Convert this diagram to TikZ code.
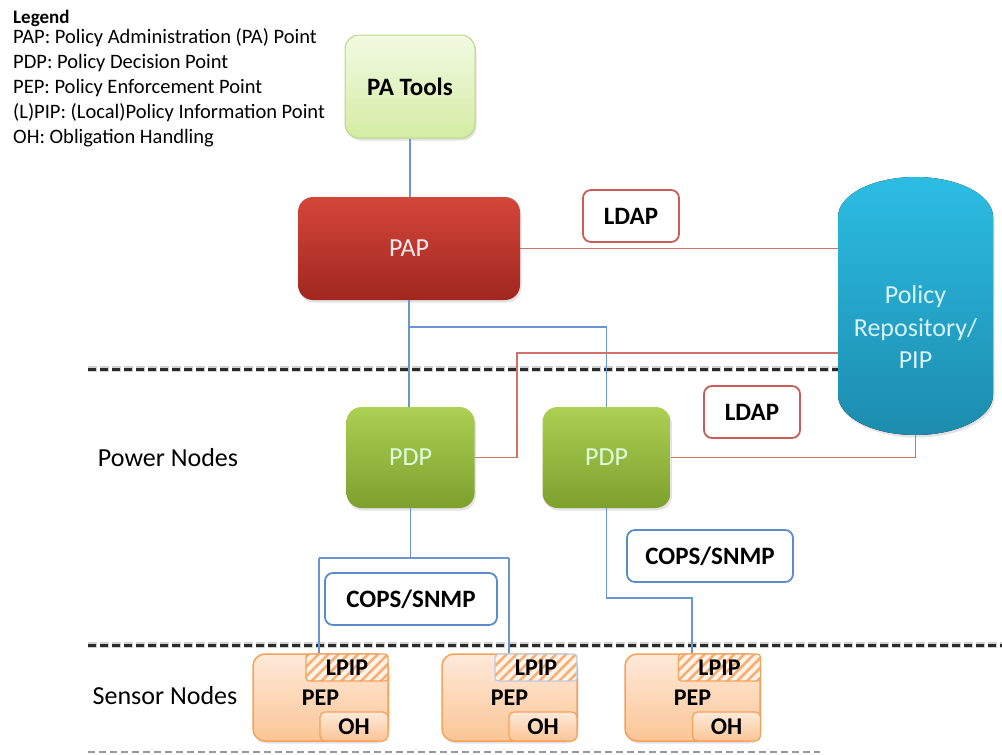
\documentclass[tikz,border=0pt]{standalone}
\usepackage{fontspec}
\setmainfont{Carlito}
\usetikzlibrary{shadows,patterns.meta}
\definecolor{linkblue}{HTML}{6A95D2}
\definecolor{linkred}{HTML}{D2716C}
\definecolor{paTop}{HTML}{F2FAE2}
\definecolor{paBot}{HTML}{D4ECA4}
\definecolor{paBorder}{HTML}{B5D984}
\definecolor{papTop}{HTML}{D4463A}
\definecolor{papBot}{HTML}{A0271F}
\definecolor{pdpTop}{HTML}{ABD052}
\definecolor{pdpBot}{HTML}{7DA02E}
\definecolor{repTop}{HTML}{2CBDE3}
\definecolor{repBot}{HTML}{1C8CAE}
\definecolor{ldapRed}{HTML}{C95E59}
\definecolor{copsBlue}{HTML}{5B8BCB}
\definecolor{pepTop}{HTML}{FEEADA}
\definecolor{pepBot}{HTML}{FBC596}
\definecolor{pepBorder}{HTML}{F4A15A}
\definecolor{lpipBg}{HTML}{FFF2E8}
\definecolor{lpipStripe}{HTML}{F6AD70}
\definecolor{lpipGrey}{HTML}{BFCBDF}
\definecolor{dashCol}{HTML}{2B2B2B}
\newcommand\ffBig{\fontsize{26}{32.5}\selectfont}
\newcommand\ffBold{\fontsize{25}{30}\selectfont\bfseries}
\newcommand\ffMid{\fontsize{24}{28}\selectfont\bfseries}
\newcommand\ffLeg{\fontsize{20.5}{25}\selectfont}
\newcommand\ffLegB{\fontsize{19}{22}\selectfont\bfseries}
\begin{document}
\begin{tikzpicture}[x=1pt,y=-1pt,
  shad/.style={drop shadow={opacity=0.22,shadow xshift=1.5pt,shadow yshift=-2.5pt}},
  legtext/.style={anchor=base west,inner sep=0pt,font=\ffLeg},
  toolbox/.style={rounded corners=14pt,minimum width=130pt,minimum height=103pt,inner sep=0pt,
    top color=paTop,bottom color=paBot,draw=paBorder,line width=1pt,shad,font=\ffBold},
  papbox/.style={rounded corners=15pt,minimum width=222pt,minimum height=103pt,inner sep=0pt,
    top color=papTop,bottom color=papBot,text=white!92!red,shad,font=\ffBig},
  pdpbox/.style={rounded corners=15pt,minimum width=128pt,minimum height=101pt,inner sep=0pt,
    top color=pdpTop,bottom color=pdpBot,text=white!88!green,shad,font=\ffBig},
  ldapbox/.style={draw=ldapRed,line width=1.8pt,rounded corners=8pt,fill=white,
    minimum width=96pt,minimum height=52pt,inner sep=0pt,font=\ffBold},
  copsbox/.style={draw=copsBlue,line width=1.8pt,rounded corners=8pt,fill=white,
    minimum height=52pt,inner sep=0pt,font=\ffBold},
  pepbox/.style={rounded corners=12pt,top color=pepTop,bottom color=pepBot,draw=pepBorder,
    line width=1.5pt,minimum width=135pt,minimum height=87pt,inner sep=0pt,font=\ffMid,shad},
  lpipbox/.style={draw=pepBorder,line width=1.2pt,rounded corners=3pt,preaction={fill=lpipBg},
    pattern={Lines[angle=45,distance=7pt,line width=2.5pt]},pattern color=lpipStripe,
    minimum width=82pt,minimum height=27pt,inner sep=0pt,font=\ffMid},
  ohbox/.style={rounded corners=5pt,top color=pepTop,bottom color=pepBot,draw=pepBorder,
    line width=1.2pt,minimum width=68pt,minimum height=29pt,inner sep=0pt,font=\ffMid},
  bl/.style={draw=linkblue,line width=1.2pt},
  rd/.style={draw=linkred,line width=1.5pt},
  sep/.style={draw=dashCol,line width=3pt,dash pattern=on 8pt off 4pt},
  sepshade/.style={draw=black,opacity=0.18,line width=6pt,dash pattern=on 9pt off 3pt}
]
\useasboundingbox (0,0) rectangle (1002,755);

% legend
\node[legtext,font=\ffLegB] (leg) at (13,23) {Legend};
\node[legtext] (l1) at (13,43) {PAP: Policy Administration (PA) Point};
\node[legtext] (l2) at (13,68) {PDP: Policy Decision Point};
\node[legtext] (l3) at (13,93) {PEP: Policy Enforcement Point};
\node[legtext] (l4) at (13,118) {(L)PIP: (Local)Policy Information Point};
\node[legtext] (l5) at (13,143) {OH: Obligation Handling};

% separators
\draw[sepshade] (88,369) -- (838,369);
\draw[sep] (88,369) -- (838,369);
\draw[sepshade] (88,645) -- (1002,645);
\draw[sep] (88,645) -- (1002,645);
\draw[draw=gray!80,line width=2pt,dash pattern=on 7pt off 4pt] (88,752) -- (820,752);

% repository capsule
\fill[top color=repTop,bottom color=repBot,drop shadow={opacity=0.22,shadow xshift=1.5pt,shadow yshift=-2.5pt}]
  (838,217) arc[start angle=180,end angle=0,x radius=77.5pt,y radius=40pt]
  -- (993,395) arc[start angle=0,end angle=-180,x radius=77.5pt,y radius=40pt] -- cycle;
\node[minimum width=155pt,minimum height=216pt,inner sep=0pt,align=center,font=\ffBig,
  text=white!85!cyan] (repo) at (915.5,327) {Policy\\Repository/\\PIP};

% main nodes
\node[toolbox] (tools) at (410,86.5) {PA Tools};
\node[papbox] (pap) at (409,248.5) {PAP};
\node[pdpbox] (pdp1) at (410.5,457.5) {PDP};
\node[pdpbox] (pdp2) at (606.5,457.5) {PDP};
\node[ldapbox] (ldap1) at (631,216) {LDAP};
\node[ldapbox] (ldap2) at (752,412) {LDAP};
\node[copsbox,minimum width=172pt] (cops1) at (411,599) {COPS/SNMP};
\node[copsbox,minimum width=166pt] (cops2) at (710,556) {COPS/SNMP};

\node[font=\ffBig,inner sep=0pt] (power) at (168,458) {Power Nodes};
\node[font=\ffBig,inner sep=0pt] (sensor) at (165,696) {Sensor Nodes};

% sensor nodes
\node[pepbox] (pep1) at (320.5,697.5) {PEP};
\node[lpipbox] (lpip1) at (347,667.5) {LPIP};
\node[ohbox] (oh1) at (354,726.5) {OH};
\node[pepbox] (pep2) at (509.5,697.5) {PEP};
\node[lpipbox,draw=lpipGrey] (lpip2) at (536,667.5) {LPIP};
\node[ohbox] (oh2) at (543,726.5) {OH};
\node[pepbox] (pep3) at (692.5,697.5) {PEP};
\node[lpipbox] (lpip3) at (719.5,667.5) {LPIP};
\node[ohbox] (oh3) at (726.5,726.5) {OH};

% connectors
\coordinate (b1) at (409,327);
\coordinate (r1) at (517,353);
\coordinate (t1) at (319,558);
\coordinate (t2) at (509,558);
\coordinate (t3) at (692,598);

\draw[bl] (tools.south) -- (tools.south |- pap.north);
\draw[bl] (pap.south) -- (pap.south |- pdp1.north);
\draw[bl] (b1) -| (pdp2.north);
\draw[rd] (pap.east) -- (pap.east -| repo.west);
\draw[rd] (pdp1.east) -| (r1) -- (r1 -| repo.west);
\draw[rd] (pdp2.east) -| (repo.south);
\draw[bl] (pdp1.south) -- (pdp1.south |- t1);
\draw[bl] (t1) -- (t2);
\draw[bl] (t1) -- (t1 |- lpip1.north);
\draw[bl] (t2) -- (t2 |- lpip2.north);
\draw[bl] (pdp2.south) |- (t3) -- (t3 |- lpip3.north);
\end{tikzpicture}
\end{document}
